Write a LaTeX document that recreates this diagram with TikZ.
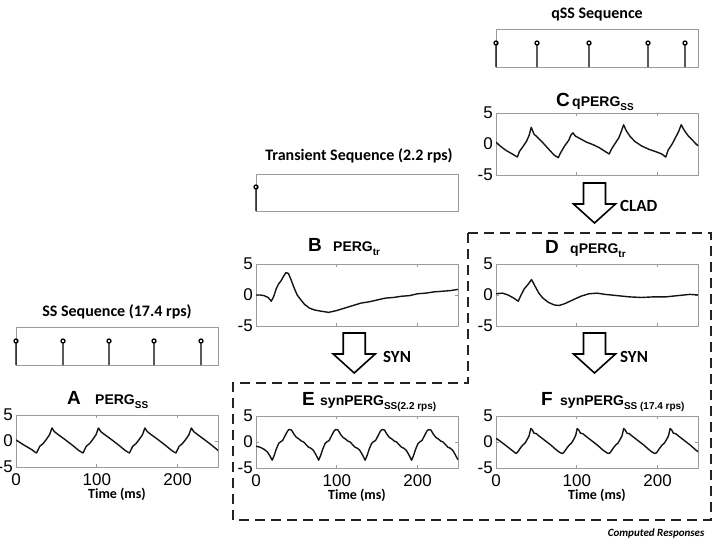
\documentclass[tikz,border=0pt]{standalone}
\usepackage{fontspec}
\setmainfont{Liberation Sans}
\newfontfamily\calfont{Carlito}
\usetikzlibrary{positioning}
\definecolor{framegray}{RGB}{155,155,155}
\definecolor{dashgray}{RGB}{35,35,35}
\definecolor{traceblack}{RGB}{20,20,20}

\tikzset{
  frame/.style={draw=framegray, line width=0.7pt},
  wave/.style={draw=traceblack, line width=1.4pt, line join=round},
  stem/.style={line width=1.3pt},
  ticklbl/.style={font=\fontsize{17}{17}\selectfont, inner sep=1pt},
  seqtitle/.style={font=\calfont\bfseries\fontsize{16}{16}\selectfont},
  letter/.style={font=\bfseries\fontsize{19}{19}\selectfont, inner sep=0pt, anchor=base west},
  pname/.style={font=\bfseries\fontsize{14}{14}\selectfont, inner sep=0pt, anchor=base west},
  oplbl/.style={font=\calfont\bfseries\fontsize{17}{17}\selectfont, anchor=west, inner sep=0pt},
  timelbl/.style={font=\calfont\bfseries\fontsize{14}{14}\selectfont},
  blockarrow/.style={draw, line width=1.6pt, line join=miter, fill=white},
  compgroup/.style={draw=dashgray, line width=2.6pt, dash pattern=on 10pt off 6pt},
}

\newcommand{\ergsub}[1]{\raisebox{-4pt}{\fontsize{10}{10}\selectfont #1}}

% axes box: name, left, top, bottom (202 wide = 250 ms)
\newcommand{\ergbox}[4]{%
  \coordinate (#1z) at (#2,{(#3+#4)/2});
  \draw[frame] (#2,#3) rectangle ({#2+202},#4);
  \foreach \t in {100,200} {
    \draw[frame] ({#2+0.808*\t},#3) -- ++(0,3);
    \draw[frame] ({#2+0.808*\t},#4) -- ++(0,-3);
  }
  \draw[frame] (#1z) -- ++(3,0);
  \draw[frame] ({#2+202},{(#3+#4)/2}) -- ++(-3,0);
  \node[ticklbl, anchor=east] (#1y5) at ({#2-2},#3) {5};
  \node[ticklbl, anchor=east] (#1y0) at ({#2-2},{(#3+#4)/2}) {0};
  \node[ticklbl, anchor=east] (#1ym) at ({#2-2},#4) {-5};
}
% time axis: name, left, bottom
\newcommand{\timeaxis}[3]{%
  \node[ticklbl, anchor=north] (#1x0) at (#2,{#3+5}) {0};
  \node[ticklbl, anchor=north] (#1x1) at ({#2+80.8},{#3+5}) {100};
  \node[ticklbl, anchor=north] (#1x2) at ({#2+161.6},{#3+5}) {200};
  \node[timelbl] (#1tl) at ({#2+101},{#3+27}) {Time (ms)};
}
% hollow block arrow: centre x, top y
\newcommand{\blockdown}[2]{%
  \draw[blockarrow] ({#1-11},#2) -- ++(22,0) -- ++(0,21) -- ++(10,0)
    -- ++(-21,19) -- ++(-21,-19) -- ++(10,0) -- cycle;
}

\begin{document}
\begin{tikzpicture}[x=1pt, y=-1pt]
\useasboundingbox (0,0) rectangle (713,542);

% computed responses
\draw[compgroup] (468,233) -- (711,233) -- (711,520) -- (233,520)
  -- (233,383) -- (468,383) -- cycle;
\node[font=\calfont\bfseries\itshape\fontsize{11}{11}\selectfont, anchor=east]
  (cresp) at (708,533) {Computed Responses};

% stimulus sequences
\node[seqtitle] (qssttl) at (597,15) {qSS Sequence};
\draw[frame] (496,29) rectangle (698,67);
\foreach \x in {496,537,589,648,685}
  \draw[stem] (\x,67) -- (\x,45) (\x,43) circle (2);

\node[seqtitle] (trttl) at (359,156) {Transient Sequence (2.2 rps)};
\draw[frame] (256,174) rectangle (458,211);
\draw[stem] (256,211) -- (256,189) (256,187) circle (2);

\node[seqtitle] (ssttl) at (117,312) {SS Sequence (17.4 rps)};
\draw[frame] (16,327) rectangle (218,365);
\foreach \x in {16,63,109,154,201}
  \draw[stem] (\x,365) -- (\x,343) (\x,341) circle (2);

% C qPERG_ss
\node[letter] (lC) at (556,106) {C};
\node[pname] (nC) at (572,106) {qPERG\ergsub{SS}};
\ergbox{C}{496}{113}{175}
\begin{scope}[shift={(Cz)}, xscale=0.808, yscale=-6.2]
\clip (0,-6) rectangle (250,6);
\draw[wave] (0,0.3) -- (5,-0.3) -- (12,-1.0) -- (20,-1.6) -- (26.4,-2.1)
  -- (29,-1.2) -- (34,-0.3) -- (38,0.5) -- (41,1.4) -- (43.6,2.7) -- (47,1.6)
  -- (52,1.0) -- (58,0.2) -- (65,-0.8) -- (72,-1.8) -- (77.1,-2.2) -- (80,-1.4)
  -- (85,-0.3) -- (90,0.6) -- (93,1.5) -- (95.3,1.8) -- (98,1.3) -- (105,0.8)
  -- (112,0.3) -- (120,-0.1) -- (128,-0.6) -- (135,-1.2) -- (140.2,-1.6)
  -- (143,-0.8) -- (148,0.2) -- (152,1.0) -- (155,2.0) -- (157.9,3.1)
  -- (161,2.2) -- (166,1.2) -- (172,0.4) -- (180,-0.3) -- (190,-0.9)
  -- (197,-1.2) -- (205,-1.6) -- (210.1,-2.1) -- (213,-1.0) -- (218,0)
  -- (222,1.0) -- (226,2.0) -- (229.2,3.1) -- (233,2.2) -- (238,1.3)
  -- (244,0.5) -- (250,-0.3);
\end{scope}

\blockdown{594.5}{183}
\node[oplbl] (lclad) at (620,206) {CLAD};

% B PERG_tr
\node[letter] (lB) at (308,251) {B};
\node[pname] (nB) at (333,251) {PERG\ergsub{tr}};
\ergbox{B}{256}{264}{326}
\begin{scope}[shift={(Bz)}, xscale=0.808, yscale=-6.2]
\clip (0,-6) rectangle (250,6);
\draw[wave] (0,0) -- (5,0) -- (10,-0.1) -- (15,-0.4) -- (19,-1.0) -- (22,-0.2)
  -- (25,1.0) -- (28,1.8) -- (31,2.3) -- (34,3.0) -- (37,3.6) -- (40,3.5)
  -- (43,2.6) -- (47,1.2) -- (51,0) -- (55,-0.7) -- (60,-1.5) -- (66,-2.1)
  -- (72,-2.4) -- (80,-2.6) -- (90,-2.8) -- (100,-2.5) -- (110,-2.1)
  -- (120,-1.7) -- (130,-1.3) -- (140,-1.1) -- (150,-0.8) -- (160,-0.5)
  -- (170,-0.4) -- (180,-0.2) -- (190,-0.1) -- (200,0.2) -- (210,0.3)
  -- (220,0.5) -- (230,0.6) -- (240,0.7) -- (250,0.9);
\end{scope}

\blockdown{354.2}{333}
\node[oplbl] (lsynb) at (383,357) {SYN};

% D qPERG_tr
\node[letter] (lD) at (545,253) {D};
\node[pname] (nD) at (570,253) {qPERG\ergsub{tr}};
\ergbox{D}{496}{264}{326}
\begin{scope}[shift={(Dz)}, xscale=0.808, yscale=-6.2]
\clip (0,-6) rectangle (250,6);
\draw[wave] (0,0.2) -- (8,0.3) -- (15,0) -- (22,-0.5) -- (27.5,-1.0) -- (31,0)
  -- (35,1.0) -- (39,1.6) -- (44,2.5) -- (48,1.5) -- (53,0.3) -- (58,-0.5)
  -- (65,-1.2) -- (72,-1.6) -- (78,-1.7) -- (85,-1.4) -- (95,-0.8)
  -- (105,-0.2) -- (115,0.2) -- (125,0.3) -- (135,0.1) -- (150,-0.1)
  -- (165,-0.3) -- (180,-0.4) -- (195,-0.3) -- (210,-0.3) -- (225,-0.1)
  -- (240,0.1) -- (250,0);
\end{scope}

\blockdown{594.5}{333}
\node[oplbl] (lsynd) at (620,357) {SYN};

% A PERG_ss
\node[letter] (lA) at (67,404) {A};
\node[pname] (nA) at (95,404) {PERG\ergsub{SS}};
\ergbox{A}{16}{415}{467}
\timeaxis{A}{16}{467}
\begin{scope}[shift={(Az)}, xscale=0.808, yscale=-5.2]
\clip (0,-6) rectangle (250,6);
\draw[wave] (0,0.2) -- (10,-0.8) -- (20,-1.7) -- (24,-2.2)
  foreach \T in {25.5,83,140.5,198} {
    -- (\T,-2.3) -- ({\T+1.5},-1.8) -- ({\T+4},-1.0) -- ({\T+8},-0.5)
    -- ({\T+12},0.3) -- ({\T+16},1.2) -- ({\T+19},2.5) -- ({\T+22},1.8)
    -- ({\T+27},1.2) -- ({\T+35},0.3) -- ({\T+45},-0.9) -- ({\T+52},-1.8)
    -- ({\T+55},-2.1)
  };
\end{scope}

% E synPERG_ss (2.2 rps)
\node[letter] (lE) at (302,405) {E};
\node[pname] (nE) at (320,405) {synPERG\ergsub{SS(2.2 rps)}};
\ergbox{E}{256}{416}{468}
\timeaxis{E}{256}{468}
\begin{scope}[shift={(Ez)}, xscale=0.808, yscale=-5.2]
\clip (0,-6) rectangle (250,6);
\draw[wave] (0,-0.8) -- (5,-1.0) -- (10,-1.4) -- (14,-1.9) -- (17,-2.6)
  foreach \T in {20,77.5,135,192.5} {
    -- (\T,-3.5) -- ({\T+2.5},-2.6) -- ({\T+5},-1.4) -- ({\T+8},-0.3)
    -- ({\T+10},0) -- ({\T+13},0.3) -- ({\T+16},1.2) -- ({\T+19},2.1)
    -- ({\T+21},2.4) -- ({\T+24},2.3) -- ({\T+27},1.5) -- ({\T+30},0.9)
    -- ({\T+33},0.6) -- ({\T+36},0.2) -- ({\T+39},0) -- ({\T+42},-0.5)
    -- ({\T+45},-1.0) -- ({\T+48},-1.2) -- ({\T+51},-1.6) -- ({\T+54},-2.4)
    -- ({\T+56},-3.0)
  } -- (250,-3.4);
\end{scope}

% F synPERG_ss (17.4 rps)
\node[letter] (lF) at (541,405) {F};
\node[pname] (nF) at (560,405) {synPERG\ergsub{SS (17.4 rps)}};
\ergbox{F}{496}{416}{468}
\timeaxis{F}{496}{468}
\begin{scope}[shift={(Fz)}, xscale=0.808, yscale=-5.2]
\clip (0,-6) rectangle (250,6);
\draw[wave] (0,0.7) -- (4,0.3) -- (9,-0.3) -- (14,-0.9) -- (19,-1.5) -- (23,-2.0)
  foreach \T in {25,82.5,140,197.5} {
    -- (\T,-2.2) -- ({\T+2},-1.9) -- ({\T+5},-1.2) -- ({\T+8},-0.6)
    -- ({\T+11},-0.2) -- ({\T+14},0.6) -- ({\T+16},1.2) -- ({\T+18},2.6)
    -- ({\T+20},2.3) -- ({\T+22},1.7) -- ({\T+25},1.6) -- ({\T+28},1.2)
    -- ({\T+33},0.6) -- ({\T+38},0) -- ({\T+43},-0.6) -- ({\T+48},-1.3)
    -- ({\T+52},-1.8) -- ({\T+55},-2.1)
  };
\end{scope}

\end{tikzpicture}
\end{document}
